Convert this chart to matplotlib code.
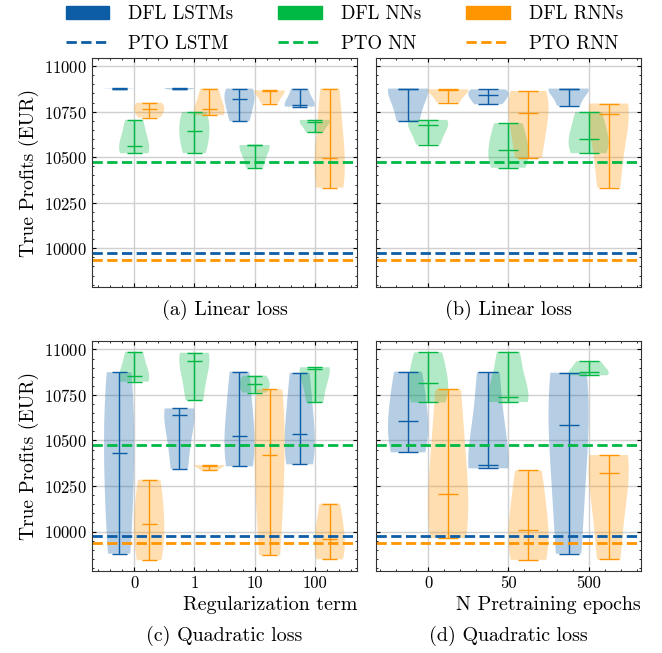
import numpy as np
import matplotlib
matplotlib.use("Agg")
import matplotlib.pyplot as plt
from matplotlib.lines import Line2D
from matplotlib.patches import Patch
from matplotlib.ticker import MultipleLocator, AutoMinorLocator

# categories
REG_TERMS = ["0", "1", "10", "100"]
PRE_EPOCHS = ["0", "50", "500"]

# (a) linear loss, regularization term -- three runs per violin
LIN_REG_LSTM = [[10876, 10877, 10878], [10872, 10877, 10880], [10697, 10818, 10877], [10778, 10787, 10877]]
LIN_REG_NN = [[10522, 10562, 10705], [10522, 10645, 10749], [10442, 10565, 10567], [10636, 10695, 10705]]
LIN_REG_RNN = [[10718, 10764, 10800], [10731, 10764, 10877], [10795, 10865, 10867], [10333, 10495, 10877]]

# (b) linear loss, pretraining epochs
LIN_PRE_LSTM = [[10697, 10875, 10877], [10791, 10842, 10873], [10782, 10875, 10877]]
LIN_PRE_NN = [[10569, 10678, 10705], [10442, 10540, 10687], [10522, 10598, 10749]]
LIN_PRE_RNN = [[10800, 10870, 10873], [10495, 10742, 10864], [10333, 10740, 10795]]

# (c) quadratic loss, regularization term
QUAD_REG_LSTM = [[9878, 10433, 10875], [10344, 10642, 10676], [10358, 10526, 10878], [10369, 10533, 10872]]
QUAD_REG_NN = [[10823, 10854, 10987], [10722, 10936, 10982], [10763, 10809, 10856], [10709, 10895, 10902]]
QUAD_REG_RNN = [[9842, 10042, 10284], [10336, 10362, 10365], [9869, 10420, 10780], [9847, 9960, 10153]]

# (d) quadratic loss, pretraining epochs
QUAD_PRE_LSTM = [[10435, 10605, 10878], [10347, 10365, 10875], [9878, 10583, 10872]]
QUAD_PRE_NN = [[10709, 10815, 10984], [10711, 10740, 10987], [10858, 10876, 10935]]
QUAD_PRE_RNN = [[9964, 10204, 10780], [9844, 10011, 10336], [9847, 10324, 10420]]

# predict-then-optimize baselines
PTO_LSTM = 9974
PTO_NN = 10473
PTO_RNN = 9936

C_LSTM = "#0C5DA5"
C_NN = "#00B945"
C_RNN = "#FF9500"

plt.rcParams.update({
    "font.family": ["cmr10", "DejaVu Serif"],
    "mathtext.fontset": "cm",
    "axes.formatter.use_mathtext": True,
    "font.size": 12,
    "xtick.direction": "in",
    "ytick.direction": "in",
    "xtick.top": True,
    "ytick.right": True,
    "xtick.major.size": 3,
    "ytick.major.size": 3,
    "xtick.minor.size": 1.5,
    "ytick.minor.size": 1.5,
    "xtick.minor.visible": True,
    "ytick.minor.visible": True,
    "axes.linewidth": 0.8,
    "axes.edgecolor": "#333333",
    "axes.grid": True,
    "grid.color": "#d0d0d0",
    "grid.linewidth": 1.0,
})


def draw_panel(ax, lstm, nn, rnn, cats):
    x = np.arange(len(cats))
    for data, off, col in [(lstm, -0.25, C_LSTM), (nn, 0.0, C_NN), (rnn, 0.25, C_RNN)]:
        parts = ax.violinplot(data, positions=x + off, widths=0.5, showmedians=True)
        for body in parts["bodies"]:
            body.set_facecolor(col)
            body.set_edgecolor("none")
            body.set_alpha(0.3)
        for key in ("cmaxes", "cmins", "cbars", "cmedians"):
            parts[key].set_color(col)
            parts[key].set_linewidth(1.0)
    ax.axhline(PTO_LSTM, color=C_LSTM, ls="--", lw=2)
    ax.axhline(PTO_NN, color=C_NN, ls="--", lw=2)
    ax.axhline(PTO_RNN, color=C_RNN, ls="--", lw=2)
    ax.set_xticks(x)
    ax.set_xticklabels(cats)
    ax.xaxis.set_minor_locator(AutoMinorLocator(5))
    ax.yaxis.set_major_locator(MultipleLocator(250))
    ax.yaxis.set_minor_locator(AutoMinorLocator(5))
    ax.set_axisbelow(True)


fig, axs = plt.subplots(2, 2, figsize=(6.62, 6.53), dpi=100, sharex="col", sharey=True)
fig.subplots_adjust(left=0.139, right=0.968, top=0.911, bottom=0.126, wspace=0.072, hspace=0.235)

draw_panel(axs[0, 0], LIN_REG_LSTM, LIN_REG_NN, LIN_REG_RNN, REG_TERMS)
draw_panel(axs[0, 1], LIN_PRE_LSTM, LIN_PRE_NN, LIN_PRE_RNN, PRE_EPOCHS)
draw_panel(axs[1, 0], QUAD_REG_LSTM, QUAD_REG_NN, QUAD_REG_RNN, REG_TERMS)
draw_panel(axs[1, 1], QUAD_PRE_LSTM, QUAD_PRE_NN, QUAD_PRE_RNN, PRE_EPOCHS)

for ax in axs[:, 0]:
    ax.set_ylabel("True Profits (EUR)", fontsize=14)
axs[1, 0].set_xlabel("Regularization term", loc="right", fontsize=14.4)
axs[1, 1].set_xlabel("N Pretraining epochs", loc="right", fontsize=14.4)

captions = [["(a) Linear loss", "(b) Linear loss"], ["(c) Quadratic loss", "(d) Quadratic loss"]]
cap_y = [1 - 310 / 653, 1 - 636 / 653]
for r in range(2):
    for c in range(2):
        pos = axs[r, c].get_position()
        fig.text((pos.x0 + pos.x1) / 2, cap_y[r], captions[r][c],
                 ha="center", va="center", fontsize=14.4)

handles = [
    Patch(color=C_LSTM, label="DFL LSTMs"),
    Line2D([], [], color=C_LSTM, ls="--", lw=2, label="PTO LSTM"),
    Patch(color=C_NN, label="DFL NNs"),
    Line2D([], [], color=C_NN, ls="--", lw=2, label="PTO NN"),
    Patch(color=C_RNN, label="DFL RNNs"),
    Line2D([], [], color=C_RNN, ls="--", lw=2, label="PTO RNN"),
]
fig.legend(handles=handles, loc="upper center", bbox_to_anchor=(0.52, 1.018), ncol=3,
           frameon=False, fontsize=13.6, handlelength=2.3, columnspacing=2.4,
           handletextpad=1.0, labelspacing=0.62)

fig.savefig("out.png", dpi=100)
